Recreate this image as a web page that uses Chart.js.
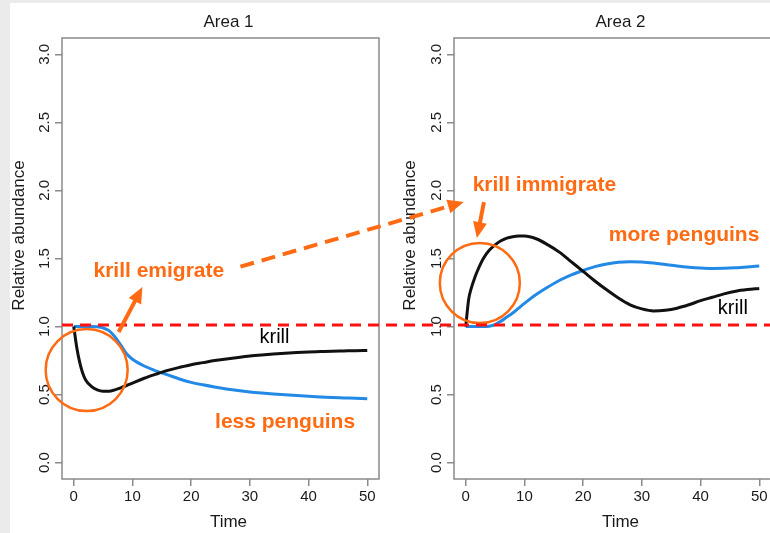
<!DOCTYPE html>
<html>
<head>
<meta charset="utf-8">
<title>Krill and penguins</title>
<script src="https://cdn.jsdelivr.net/npm/chart.js@4.4.0/dist/chart.umd.min.js"></script>
<style>
  html, body { margin: 0; padding: 0; width: 770px; height: 533px; overflow: hidden; background: #ebebeb; }
  #sheet { position: absolute; left: 10px; top: 3px; width: 760px; height: 530px; background: #fff; }
  #area2 { position: absolute; left: 390px; top: 0; }
  #area1 { position: absolute; left: 0; top: 0; z-index: 2; }
</style>
</head>
<body>
<div id="sheet"></div>
<canvas id="area2" width="400" height="533"></canvas>
<canvas id="area1" width="770" height="533"></canvas>
<script>
// Time steps
var time = [0, 0.5, 1, 1.5, 2, 3, 4, 5, 6, 7, 8, 9, 10, 12, 14, 16, 18, 20, 22, 24, 26, 28, 30, 32, 34, 36, 38, 40, 42, 44, 46, 48, 50];

// Area 1 - krill leave, penguins go down
var krillArea1 = [1.0, 0.85, 0.74, 0.66, 0.61, 0.56, 0.535, 0.525, 0.525, 0.535, 0.55, 0.567, 0.585, 0.62, 0.65, 0.678, 0.70, 0.72, 0.735, 0.75, 0.762, 0.773, 0.783, 0.791, 0.798, 0.804, 0.809, 0.813, 0.816, 0.819, 0.821, 0.823, 0.824];
var penguinsArea1 = [1, 1, 1, 1, 1, 1, 0.998, 0.99, 0.97, 0.925, 0.865, 0.80, 0.76, 0.71, 0.675, 0.645, 0.615, 0.59, 0.572, 0.556, 0.542, 0.53, 0.52, 0.512, 0.505, 0.499, 0.493, 0.488, 0.483, 0.479, 0.476, 0.473, 0.47];

// Area 2 - krill arrive, penguins go up
var krillArea2 = [1.0, 1.2, 1.29, 1.355, 1.41, 1.50, 1.56, 1.60, 1.63, 1.65, 1.66, 1.665, 1.665, 1.645, 1.60, 1.545, 1.475, 1.405, 1.335, 1.27, 1.21, 1.16, 1.13, 1.115, 1.12, 1.135, 1.16, 1.19, 1.215, 1.24, 1.26, 1.272, 1.28];
var penguinsArea2 = [1, 1, 1, 1, 1, 1, 1.003, 1.015, 1.04, 1.07, 1.10, 1.135, 1.17, 1.235, 1.29, 1.34, 1.38, 1.412, 1.44, 1.46, 1.473, 1.477, 1.475, 1.467, 1.456, 1.445, 1.436, 1.43, 1.427, 1.428, 1.432, 1.438, 1.445];

// Tick labels
var timeTicks = [0, 10, 20, 30, 40, 50];
var abundanceTicks = [0, 0.5, 1, 1.5, 2, 2.5, 3];

var fontFamily = '"Liberation Sans", Arial, Helvetica, sans-serif';
var orange = '#ff6a12';
var blue = '#2289e6';
var frameColor = '#8a8a8a';

// Notes written on each panel (in data units)
var notesArea1 = [
    { text: 'krill emigrate', t: 14.5, v: 1.41, bold: true, color: orange },
    { text: 'less penguins', t: 36.0, v: 0.30, bold: true, color: orange },
    { text: 'krill', t: 34.2, v: 0.92, bold: false, color: '#000' }
];
var notesArea2 = [
    { text: 'krill immigrate', t: 13.4, v: 2.04, bold: true, color: orange },
    { text: 'more penguins', t: 37.2, v: 1.67, bold: true, color: orange },
    { text: 'krill', t: 45.5, v: 1.13, bold: false, color: '#000' }
];

function toPoints(values) {
    return time.map(function (t, i) { return { x: t, y: values[i] }; });
}

// Draw a straight arrow with a filled head
function drawArrow(ctx, x1, y1, x2, y2, width, dash) {
    var ang = Math.atan2(y2 - y1, x2 - x1);
    var head = 16, half = 7;
    ctx.save();
    ctx.strokeStyle = orange;
    ctx.fillStyle = orange;
    ctx.lineWidth = width;
    ctx.setLineDash(dash || []);
    ctx.beginPath();
    ctx.moveTo(x1, y1);
    ctx.lineTo(x2 - head * 0.8 * Math.cos(ang), y2 - head * 0.8 * Math.sin(ang));
    ctx.stroke();
    ctx.setLineDash([]);
    ctx.beginPath();
    ctx.moveTo(x2, y2);
    ctx.lineTo(x2 - head * Math.cos(ang) + half * Math.sin(ang), y2 - head * Math.sin(ang) - half * Math.cos(ang));
    ctx.lineTo(x2 - head * Math.cos(ang) - half * Math.sin(ang), y2 - head * Math.sin(ang) + half * Math.cos(ang));
    ctx.closePath();
    ctx.fill();
    ctx.restore();
}

// Box, titles and notes for one panel, R style
var rPanel = {
    id: 'rPanel',
    afterDatasetsDraw: function (chart, args, opts) {
        var ctx = chart.ctx;
        var area = chart.chartArea;
        var xs = chart.scales.x, ys = chart.scales.y;
        var midX = (area.left + area.right) / 2 + 8;

        ctx.save();
        // plot box
        ctx.strokeStyle = frameColor;
        ctx.lineWidth = 1.5;
        ctx.strokeRect(area.left, area.top, area.right - area.left, area.bottom - area.top);

        // titles
        ctx.fillStyle = '#1a1a1a';
        ctx.textAlign = 'center';
        ctx.textBaseline = 'middle';
        ctx.font = '17px ' + fontFamily;
        ctx.fillText(opts.title, midX, area.top - 16);
        ctx.fillText('Time', midX, area.bottom + 43);
        ctx.save();
        ctx.translate(opts.yLabelX, (area.top + area.bottom) / 2 - 23);
        ctx.rotate(-Math.PI / 2);
        ctx.fillText('Relative abundance', 0, 0);
        ctx.restore();

        // the red line at the starting level, across both panels
        if (opts.startLine) {
            ctx.save();
            ctx.strokeStyle = '#ff1010';
            ctx.lineWidth = 3;
            ctx.setLineDash([11, 7]);
            ctx.beginPath();
            ctx.moveTo(area.left, ys.getPixelForValue(1.012));
            ctx.lineTo(chart.width, ys.getPixelForValue(1.012));
            ctx.stroke();
            ctx.restore();
        }

        // circle around the first response
        ctx.strokeStyle = orange;
        ctx.lineWidth = 2.5;
        ctx.beginPath();
        ctx.arc(xs.getPixelForValue(opts.circle.t), ys.getPixelForValue(opts.circle.v), opts.circle.r, 0, Math.PI * 2);
        ctx.stroke();

        // short arrow
        var a = opts.arrow;
        drawArrow(ctx, xs.getPixelForValue(a.t1), ys.getPixelForValue(a.v1), xs.getPixelForValue(a.t2), ys.getPixelForValue(a.v2), 4);

        // dashed arrow from Area 1 over to Area 2
        if (opts.linkTo) {
            var other = opts.linkTo;
            var shift = other.canvas.offsetLeft - chart.canvas.offsetLeft;
            var l = opts.link;
            drawArrow(ctx,
                xs.getPixelForValue(l.t1), ys.getPixelForValue(l.v1),
                other.scales.x.getPixelForValue(l.t2) + shift, other.scales.y.getPixelForValue(l.v2),
                4, [14, 8]);
        }

        // notes
        opts.notes.forEach(function (n) {
            ctx.fillStyle = n.color;
            ctx.font = (n.bold ? 'bold 21px ' : '20px ') + fontFamily;
            ctx.fillText(n.text, xs.getPixelForValue(n.t), ys.getPixelForValue(n.v));
        });
        ctx.restore();
    }
};

function makeChart(canvasId, krill, penguins, yAxisWidth, padRight, panel) {
    var ctx = document.getElementById(canvasId).getContext('2d');
    return new Chart(ctx, {
        type: 'line',
        data: {
            datasets: [
                { label: 'krill', data: toPoints(krill), borderColor: '#111', borderWidth: 3 },
                { label: 'penguins', data: toPoints(penguins), borderColor: blue, borderWidth: 3 }
            ]
        },
        options: {
            responsive: false,
            animation: false,
            layout: { padding: { left: 0, right: padRight, top: 38, bottom: 0 } },
            elements: {
                point: { radius: 0 },
                line: { cubicInterpolationMode: 'monotone', fill: false }
            },
            plugins: {
                legend: { display: false },
                tooltip: { enabled: false },
                rPanel: panel
            },
            scales: {
                x: {
                    type: 'linear',
                    min: -2,
                    max: 52,
                    bounds: 'data',
                    afterBuildTicks: function (scale) {
                        scale.ticks = timeTicks.map(function (v) { return { value: v }; });
                    },
                    afterFit: function (scale) { scale.height = 54; },
                    border: { display: false },
                    grid: { drawOnChartArea: false, tickLength: 7, color: frameColor, lineWidth: 1.5 },
                    ticks: {
                        font: { family: fontFamily, size: 15 },
                        color: '#1a1a1a',
                        padding: 2,
                        maxRotation: 0,
                        autoSkip: false,
                        callback: function (value) { return value; }
                    }
                },
                y: {
                    type: 'linear',
                    min: -0.12,
                    max: 3.12,
                    bounds: 'data',
                    afterBuildTicks: function (scale) {
                        scale.ticks = abundanceTicks.map(function (v) { return { value: v }; });
                    },
                    afterFit: function (scale) { scale.width = yAxisWidth; },
                    border: { display: false },
                    grid: { drawOnChartArea: false, tickLength: 7, color: frameColor, lineWidth: 1.5 },
                    ticks: {
                        font: { family: fontFamily, size: 15 },
                        color: '#1a1a1a',
                        padding: 0,
                        minRotation: 90,
                        maxRotation: 90,
                        crossAlign: 'center',
                        autoSkip: false,
                        callback: function (value) { return value.toFixed(1); }
                    }
                }
            }
        },
        plugins: [rPanel]
    });
}

// Area 2 first, so Area 1 can point its dashed arrow into it
var chartArea2 = makeChart('area2', krillArea2, penguinsArea2, 64, 19, {
    title: 'Area 2',
    yLabelX: 20,
    notes: notesArea2,
    circle: { t: 2.4, v: 1.32, r: 40 },
    arrow: { t1: 3.1, v1: 1.915, t2: 1.9, v2: 1.65 }
});

var chartArea1 = makeChart('area1', krillArea1, penguinsArea1, 62, 391, {
    title: 'Area 1',
    yLabelX: 19,
    notes: notesArea1,
    startLine: true,
    circle: { t: 2.2, v: 0.68, r: 41 },
    arrow: { t1: 7.65, v1: 0.96, t2: 11.7, v2: 1.29 },
    linkTo: chartArea2,
    link: { t1: 28.4, v1: 1.44, t2: -0.34, v2: 1.915 }
});
</script>
</body>
</html>
